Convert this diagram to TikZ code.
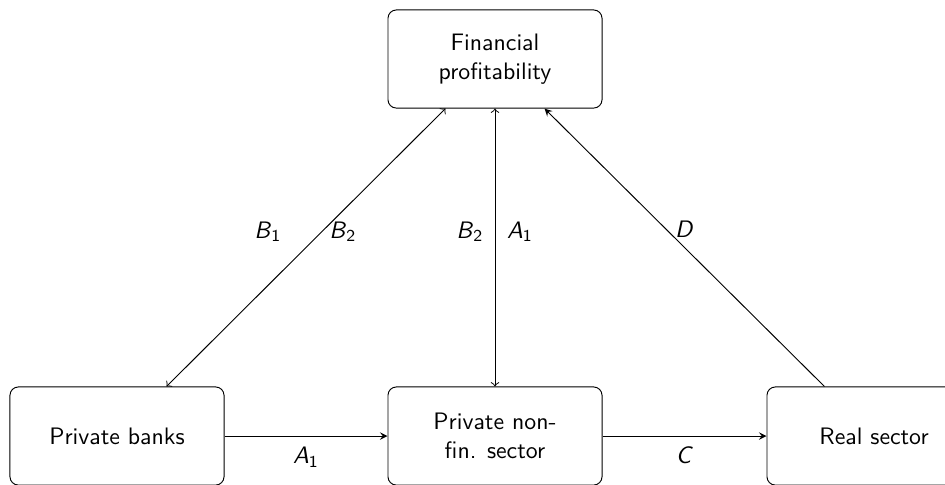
\documentclass[tikz,border=0pt]{standalone}
\newcommand{\lab}[2]{\textit{#1}\textsubscript{#2}}
\tikzset{
  box/.style={draw, rounded corners=3.5pt, minimum width=89.9pt, minimum height=41.2pt, align=center, font=\sffamily},
  lbl/.style={font=\sffamily, inner sep=1pt}
}
\begin{document}
\begin{tikzpicture}[x=0.42pt,y=0.42pt,yscale=-1]
\useasboundingbox (0,0) rectangle (945,485);
\clip (0,0) rectangle (945,485);
\node[box] (fin) at (495,59) {Financial\\profitability};
\node[box] (banks) at (117,436) {Private banks};
\node[box] (pnf) at (495,436) {Private non-\\fin. sector};
\node[box] (real) at (874,436) {Real sector};
\draw[<->] (banks.45) -- node[lbl,xshift=-16pt,yshift=6.7pt] (b1) {\lab{B}{1}} node[lbl,xshift=15.5pt,yshift=6.7pt] (b2a) {\lab{B}{2}} (fin.-135);
\draw[<->] (pnf.north) -- node[lbl,xshift=-10.5pt,yshift=6.7pt] (b2b) {\lab{B}{2}} node[lbl,xshift=10.5pt,yshift=6.7pt] (a1a) {\lab{A}{1}} (fin.south);
\draw[-stealth] (real.135) -- node[lbl,yshift=7.5pt] (d) {\textit{D}} (fin.-45);
\draw[-stealth] (banks.east) -- node[lbl,yshift=-8.8pt] (a1b) {\lab{A}{1}} (pnf.west);
\draw[-stealth] (pnf.east) -- node[lbl,yshift=-8pt] (c) {\textit{C}} (real.west);
\end{tikzpicture}
\end{document}
